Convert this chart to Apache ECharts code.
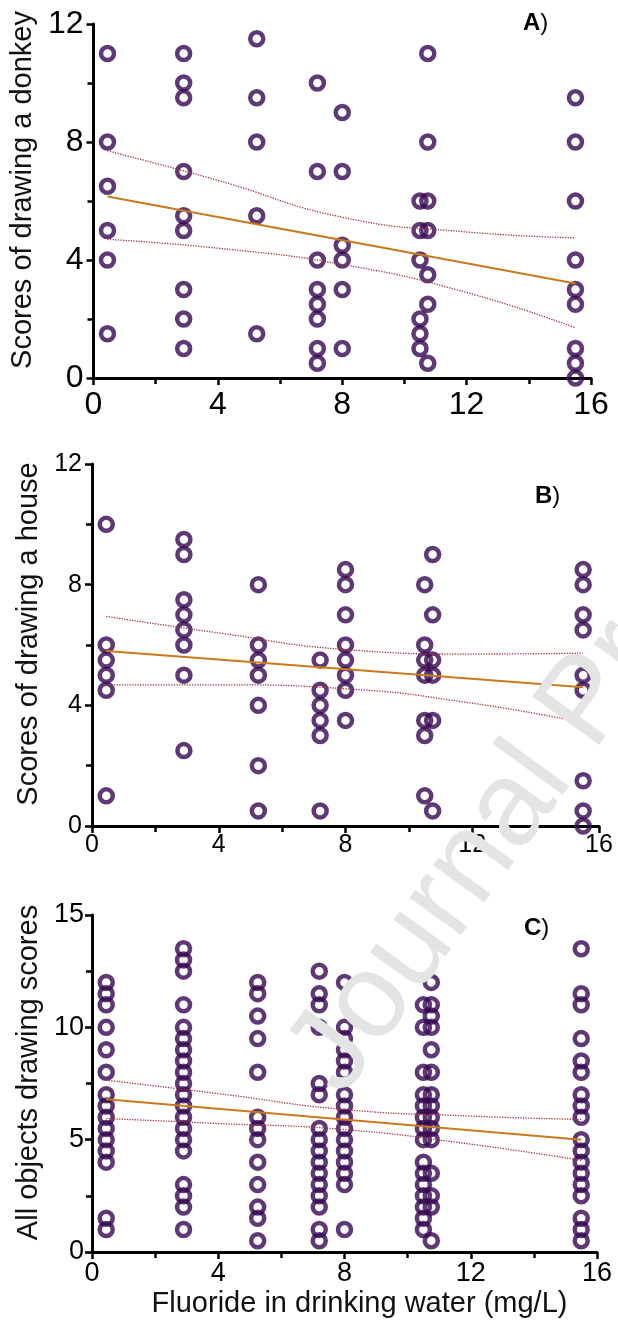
<!DOCTYPE html>
<html>
<head>
<meta charset="utf-8">
<script src="https://cdn.jsdelivr.net/npm/echarts@6/dist/echarts.min.js"></script>
<style>
  html, body { margin: 0; background: #fff; }
  #chart { width: 618px; height: 1335px; }
</style>
</head>
<body>
<div id="chart"></div>
<script>
// fluoride in drinking water (mg/L), one value per village
const fluorideLevels = [0.45, 2.9, 5.25, 7.2, 8.0, 10.5, 10.75, 15.5];

// A) scores of drawing a donkey, one list per fluoride level
const donkeyScores = [
  [11, 8, 6.5, 5, 4, 1.5],
  [11, 10, 9.5, 7, 5.5, 5, 3, 2, 1],
  [11.5, 9.5, 8, 5.5, 1.5],
  [10, 7, 4, 3, 2.5, 2, 1, 0.5],
  [9, 7, 4.5, 4, 3, 1],
  [6, 5, 4, 2, 1.5, 1],
  [11, 8, 6, 5, 3.5, 2.5, 0.5],
  [9.5, 8, 6, 4, 3, 2.5, 1, 0.5, 0]
];

// B) scores of drawing a house
const houseScores = [
  [10, 6, 5.5, 5, 4.5, 1],
  [9.5, 9, 7.5, 7, 6.5, 6, 5, 2.5],
  [8, 6, 5.5, 5, 4, 2, 0.5],
  [5.5, 4.5, 4, 3.5, 3, 0.5],
  [8.5, 8, 7, 6, 5.5, 5, 4.5, 3.5],
  [8, 6, 5.5, 5, 3.5, 3, 1],
  [9, 7, 5.5, 5, 3.5, 0.5],
  [8.5, 8, 7, 6.5, 5, 4.5, 1.5, 0.5, 0]
];

// C) all objects drawing scores
const allScores = [
  [12, 11.5, 11, 10, 9, 8, 7, 6.5, 6, 5.5, 5, 4.5, 4, 1.5, 1],
  [13.5, 13, 12.5, 11, 10, 9.5, 9, 8.5, 8, 7.5, 7, 6.5, 6, 5.5, 5, 4.5, 3, 2.5, 2, 1],
  [12, 11.5, 10.5, 9.5, 8, 6, 5.5, 5, 4, 3, 2, 1.5, 0.5],
  [12.5, 11.5, 11, 10, 7.5, 7, 5.5, 5, 4.5, 4, 3.5, 3, 2.5, 2, 1, 0.5],
  [12, 10, 9.5, 9, 8.5, 8, 7, 6.5, 6, 5.5, 5, 4.5, 4, 3.5, 3, 1],
  [11, 10, 8, 7, 6.5, 6, 5.5, 5, 4, 3.5, 3, 2.5, 2, 1.5, 1],
  [12, 11, 10.5, 10, 9, 8, 7, 6.5, 6, 5.5, 5, 3.5, 2.5, 2, 0.5],
  [13.5, 11.5, 11, 9.5, 8.5, 8, 7, 6.5, 6, 5, 4.5, 4, 3.5, 3, 2.5, 1.5, 1, 0.5]
];

// regression lines (ends) and 95% bands
const fitX = [0.45, 15.5];
const donkeyFit = [6.15, 3.2];
const houseFit = [5.8, 4.6];
const allFit = [6.8, 5.0];

const bandX = [0.45, 4, 8, 12, 15.5];
const donkeyUpper = [7.7, 6.7, 5.45, 4.95, 4.75];
const donkeyLower = [4.7, 4.4, 3.85, 2.9, 1.7];
const houseUpper = [6.95, 6.4, 5.85, 5.7, 5.73];
const houseLower = [4.68, 4.68, 4.55, 4.07, 3.43];
const allUpper = [7.65, 7.05, 6.34, 6.05, 5.9];
const allLower = [5.94, 5.72, 5.45, 4.8, 4.08];

const xTicks = { min: 0, max: 16, interval: 4 };

const FONT = 'Liberation Sans, Arial, sans-serif';
const PURPLE = '#360852';

function points(cols) {
  const out = [];
  cols.forEach((ys, i) => ys.forEach(y => out.push([fluorideLevels[i], y])));
  return out;
}
function pairs(xs, ys) {
  return xs.map((x, i) => [x, ys[i]]);
}

function xAxis(gridIndex, fontSize, margin, name) {
  return {
    type: 'value', gridIndex, min: xTicks.min, max: xTicks.max, interval: xTicks.interval,
    axisLine: { lineStyle: { color: '#000', width: 3 } },
    axisTick: { length: 7, lineStyle: { width: 2.5, color: '#000' } },
    minorTick: { show: true, splitNumber: 2, length: 6, lineStyle: { width: 2.5, color: '#000' } },
    splitLine: { show: false },
    axisLabel: { fontSize, margin, color: '#000', fontFamily: FONT },
    name: name || '', nameLocation: 'middle', nameGap: 37,
    nameTextStyle: { fontSize: 29, color: '#111', fontFamily: FONT, padding: [0, 0, 0, 30] }
  };
}
function yAxis(gridIndex, max, interval, fontSize, margin, name) {
  return {
    type: 'value', gridIndex, min: 0, max, interval,
    axisLine: { show: true, lineStyle: { color: '#000', width: 3 } },
    axisTick: { show: true, length: 7, lineStyle: { width: 2.5, color: '#000' } },
    minorTick: { show: true, splitNumber: 2, length: 6, lineStyle: { width: 2.5, color: '#000' } },
    splitLine: { show: false },
    axisLabel: { fontSize, margin, color: '#000', fontFamily: FONT },
    name, nameLocation: 'middle', nameRotate: 90, nameGap: 49,
    nameTextStyle: { fontSize: 29, color: '#111', fontFamily: FONT, padding: [0, 0, 0, 22] }
  };
}

function panelSeries(idx, scores, fit, upper, lower) {
  const band = data => ({
    type: 'line', xAxisIndex: idx, yAxisIndex: idx, data: pairs(bandX, data),
    smooth: true, showSymbol: false, z: 3,
    lineStyle: { color: '#a8323a', width: 1.3, type: 'dotted' }
  });
  return [
    {
      type: 'scatter', xAxisIndex: idx, yAxisIndex: idx, data: points(scores),
      symbol: 'circle', symbolSize: 13, clip: false, z: 2,
      itemStyle: { color: 'rgba(0,0,0,0)', borderColor: PURPLE, borderWidth: 4.5 }
    },
    {
      type: 'line', xAxisIndex: idx, yAxisIndex: idx, data: pairs(fitX, fit),
      showSymbol: false, z: 4,
      lineStyle: { color: '#c97a1c', width: 2 }
    },
    band(upper),
    band(lower)
  ];
}

const chart = echarts.init(document.getElementById('chart'));
chart.setOption({
  animation: false,
  backgroundColor: '#fff',
  grid: [
    { left: 91, top: 24, width: 500, height: 354 },
    { left: 92, top: 464, width: 507, height: 362 },
    { left: 92, top: 915, width: 505, height: 337 }
  ],
  xAxis: [
    xAxis(0, 32, 11),
    xAxis(1, 25, 7),
    xAxis(2, 27, 8, 'Fluoride in drinking water (mg/L)')
  ],
  yAxis: [
    yAxis(0, 12, 4, 32, 10, 'Scores of drawing a donkey'),
    yAxis(1, 12, 4, 25, 10, 'Scores of drawing a house'),
    yAxis(2, 15, 5, 27, 8, 'All objects drawing scores')
  ],
  series: [
    ...panelSeries(0, donkeyScores, donkeyFit, donkeyUpper, donkeyLower),
    ...panelSeries(1, houseScores, houseFit, houseUpper, houseLower),
    ...panelSeries(2, allScores, allFit, allUpper, allLower)
  ],
  graphic: [
    {
      type: 'text', x: 364, y: 1114, rotation: 54 * Math.PI / 180, z: 100,
      style: { text: 'Journal Pre-proof', fontSize: 120, fontFamily: FONT, fill: '#e4e4e4', align: 'left', verticalAlign: 'bottom' }
    },
    { type: 'text', left: 523, top: 11, style: { text: '{b|A})', fontSize: 24, fontFamily: FONT, fill: '#000', rich: { b: { fontWeight: 'bold', fontSize: 24, fontFamily: FONT } } } },
    { type: 'text', left: 535, top: 484, style: { text: '{b|B})', fontSize: 24, fontFamily: FONT, fill: '#000', rich: { b: { fontWeight: 'bold', fontSize: 24, fontFamily: FONT } } } },
    { type: 'text', left: 524, top: 916, style: { text: '{b|C})', fontSize: 24, fontFamily: FONT, fill: '#000', rich: { b: { fontWeight: 'bold', fontSize: 24, fontFamily: FONT } } } }
  ]
});
</script>
</body>
</html>
